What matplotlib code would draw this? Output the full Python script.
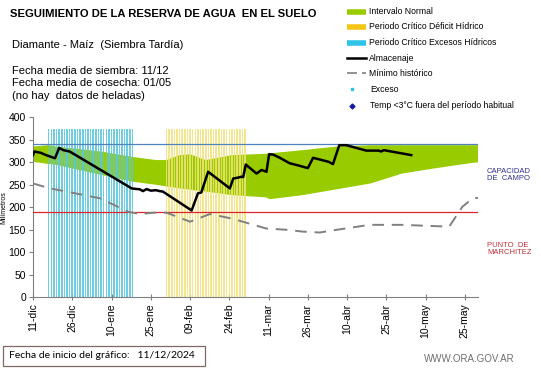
import numpy as np
import matplotlib.pyplot as plt
from matplotlib.lines import Line2D
from matplotlib.patches import Rectangle

plt.rcParams['font.family'] = ['Liberation Sans', 'DejaVu Sans']

# days counted from 11-dic-2024
tick_days = [0, 15, 30, 45, 60, 75, 90, 105, 120, 135, 150, 165]
tick_labels = ['11-dic', '26-dic', '10-ene', '25-ene', '09-feb', '24-feb',
               '11-mar', '26-mar', '10-abr', '25-abr', '10-may', '25-may']

# intervalo normal (upper / lower edge)
upper_days = [0, 6, 9, 26, 38, 47, 51, 56, 60, 66, 76, 89, 90.5, 103, 116, 129, 141, 154, 167, 170]
upper_vals = [335, 338, 335, 324, 312, 305, 305, 316, 318, 305, 316, 319, 320, 327, 335, 338, 338, 338, 338, 338]
lower_days = [0, 9, 26, 38, 47, 56, 66, 76, 89, 90.5, 103, 116, 129, 141, 154, 167, 170]
lower_vals = [301, 294, 272, 257, 250, 242, 235, 227, 222, 218, 227, 240, 253, 275, 287, 298, 300]

# almacenaje
alm_days = [0, 0.5, 3, 5, 8.4, 10, 11.6, 14, 37.7, 39, 40.8, 42, 43.4, 45, 47, 48.4, 49.6,
            60.6, 63, 64.3, 66.9, 75.2, 76.5, 78.4, 79.6, 80.3, 81.3, 85.4, 87.3, 89.2,
            90.2, 91.8, 94.3, 98, 102, 105, 107, 113, 114.6, 117, 119.7, 127.3, 132, 133, 134, 144.5]
alm_vals = [316, 324, 321, 316, 309, 332, 327, 324, 242, 241, 240, 236, 240.5, 237, 238, 236, 235,
            193, 231, 233, 279, 242, 264, 266, 268, 267, 295, 275, 283, 279,
            318, 317, 310, 298, 292, 287, 310, 301, 296, 338, 338, 326, 326, 324, 327, 316]

# minimo historico
min_days = [0, 6.5, 12.8, 25.6, 36.4, 40.8, 46, 51, 60, 67.6, 76, 89, 97, 103, 109.5, 116, 128.6, 141, 159, 164, 168, 170]
min_vals = [253, 242, 235, 220, 190, 185, 188, 188, 168, 185, 175, 153, 150, 146, 144, 150, 161, 161, 157, 201, 220, 221]

capacidad_campo = 340
punto_marchitez = 190
critical_height = 375
exceso_start, exceso_end = 6, 38
deficit_start, deficit_end = 51, 81

fig = plt.figure(figsize=(5.41, 3.68), dpi=100)
ax = fig.add_axes([33/541, 1-297.3/368, (478-33)/541, (297.3-117.3)/368])

green = '#99cc00'
cyan = '#5ec8dc'
yellow = '#f3e27a'

ax.fill(upper_days + lower_days[::-1], upper_vals + lower_vals[::-1], color=green, lw=0, zorder=1)

exc_days = np.arange(exceso_start, exceso_end + 1)
def_days = np.arange(deficit_start, deficit_end + 1)
ax.bar(exc_days, [critical_height]*len(exc_days), width=0.6, color=cyan, alpha=0.9, lw=0, zorder=2)
ax.bar(def_days, [critical_height]*len(def_days), width=0.6, color=yellow, alpha=0.85, lw=0, zorder=2)

ax.axhline(capacidad_campo, color='#4f81bd', lw=0.9, zorder=3)
ax.axhline(punto_marchitez, color='#d9262c', lw=0.9, zorder=3)

ax.plot(min_days, min_vals, color='#808080', lw=1.4, dashes=(6, 4), zorder=3)
ax.plot(alm_days, alm_vals, color='black', lw=1.8, zorder=4)

ax.set_xlim(0, 170)
ax.set_ylim(0, 400)
ax.set_xticks(tick_days)
ax.set_xticklabels(tick_labels, rotation=90, fontsize=7.5)
ax.set_yticks([0, 50, 100, 150, 200, 250, 300, 350, 400])
ax.tick_params(axis='y', labelsize=7.5, length=3, color='#808080', pad=2)
ax.tick_params(axis='x', length=5, direction='inout', color='#808080', pad=2)
for s in ['top', 'right']:
    ax.spines[s].set_visible(False)
for s in ['left', 'bottom']:
    ax.spines[s].set_color('#808080')
ax.set_ylabel('Milímetros', fontsize=5, labelpad=1)

# texts
fig.text(10/541, 1-14/368, 'SEGUIMIENTO DE LA RESERVA DE AGUA  EN EL SUELO', fontsize=8.1,
         fontweight='bold', va='center')
fig.text(12/541, 1-45/368, 'Diamante - Maíz  (Siembra Tardía)', fontsize=8, va='center')
fig.text(12/541, 1-71/368, 'Fecha media de siembra: 11/12', fontsize=8, va='center')
fig.text(12/541, 1-83/368, 'Fecha media de cosecha: 01/05', fontsize=8, va='center')
fig.text(12/541, 1-96/368, '(no hay  datos de heladas)', fontsize=8, va='center')

fig.text(487/541, 1-175/368, 'CAPACIDAD\nDE  CAMPO', fontsize=5.5, color='#303090',
         va='center', linespacing=1.1)
fig.text(487/541, 1-249/368, 'PUNTO  DE\nMARCHITEZ', fontsize=5.5, color='#c0303a',
         va='center', linespacing=1.1)

# legend, drawn by hand
leg_y = [11.7, 26.7, 42.7, 58.3, 73.3, 89.3, 105.5]
leg_labels = ['Intervalo Normal', 'Periodo Crítico Déficit Hídrico', 'Periodo Crítico Excesos Hídricos',
              'Almacenaje', 'Mínimo histórico', 'Exceso', 'Temp <3°C fuera del período habitual']
x0, x1 = 347/541, 366/541
for y, lab in zip(leg_y, leg_labels):
    yf = 1 - y/368
    tx = 369/541 if lab not in ('Exceso', 'Temp <3°C fuera del período habitual') else 370/541
    fig.text(tx, yf, lab, fontsize=6.2, va='center')
fig.add_artist(Line2D([x0, x1], [1-11.7/368]*2, color=green, lw=4, solid_capstyle='butt'))
fig.add_artist(Line2D([x0, x1], [1-26.7/368]*2, color='#f5c518', lw=4, solid_capstyle='butt'))
fig.add_artist(Line2D([x0, x1], [1-42.7/368]*2, color='#2ec4e8', lw=4, solid_capstyle='butt'))
fig.add_artist(Line2D([x0, x1], [1-58.3/368]*2, color='black', lw=1.8))
fig.add_artist(Line2D([x0, x1], [1-73.3/368]*2, color='#808080', lw=1.2, dashes=(6, 3)))
fig.add_artist(Line2D([352/541], [1-89.3/368], color='#2ec4e8', marker='s', ms=2, lw=0))
fig.add_artist(Line2D([352/541], [1-105.5/368], color='#1a1aa0', marker='D', ms=2.5, lw=0))

# footer
fig.add_artist(Rectangle((3/541, 1-366/368), 202/541, 20/368, transform=fig.transFigure,
                         fill=False, edgecolor='#806868', lw=0.9))
fig.text(9/541, 1-356/368, 'Fecha de inicio del gráfico:   11/12/2024', fontsize=7.5,
         family=['Lato', 'DejaVu Sans'], va='center')
fig.text(515/541, 1-359/368, 'WWW.ORA.GOV.AR', fontsize=7, color='#707070', ha='right', va='center')

fig.savefig('out.png', dpi=100)
